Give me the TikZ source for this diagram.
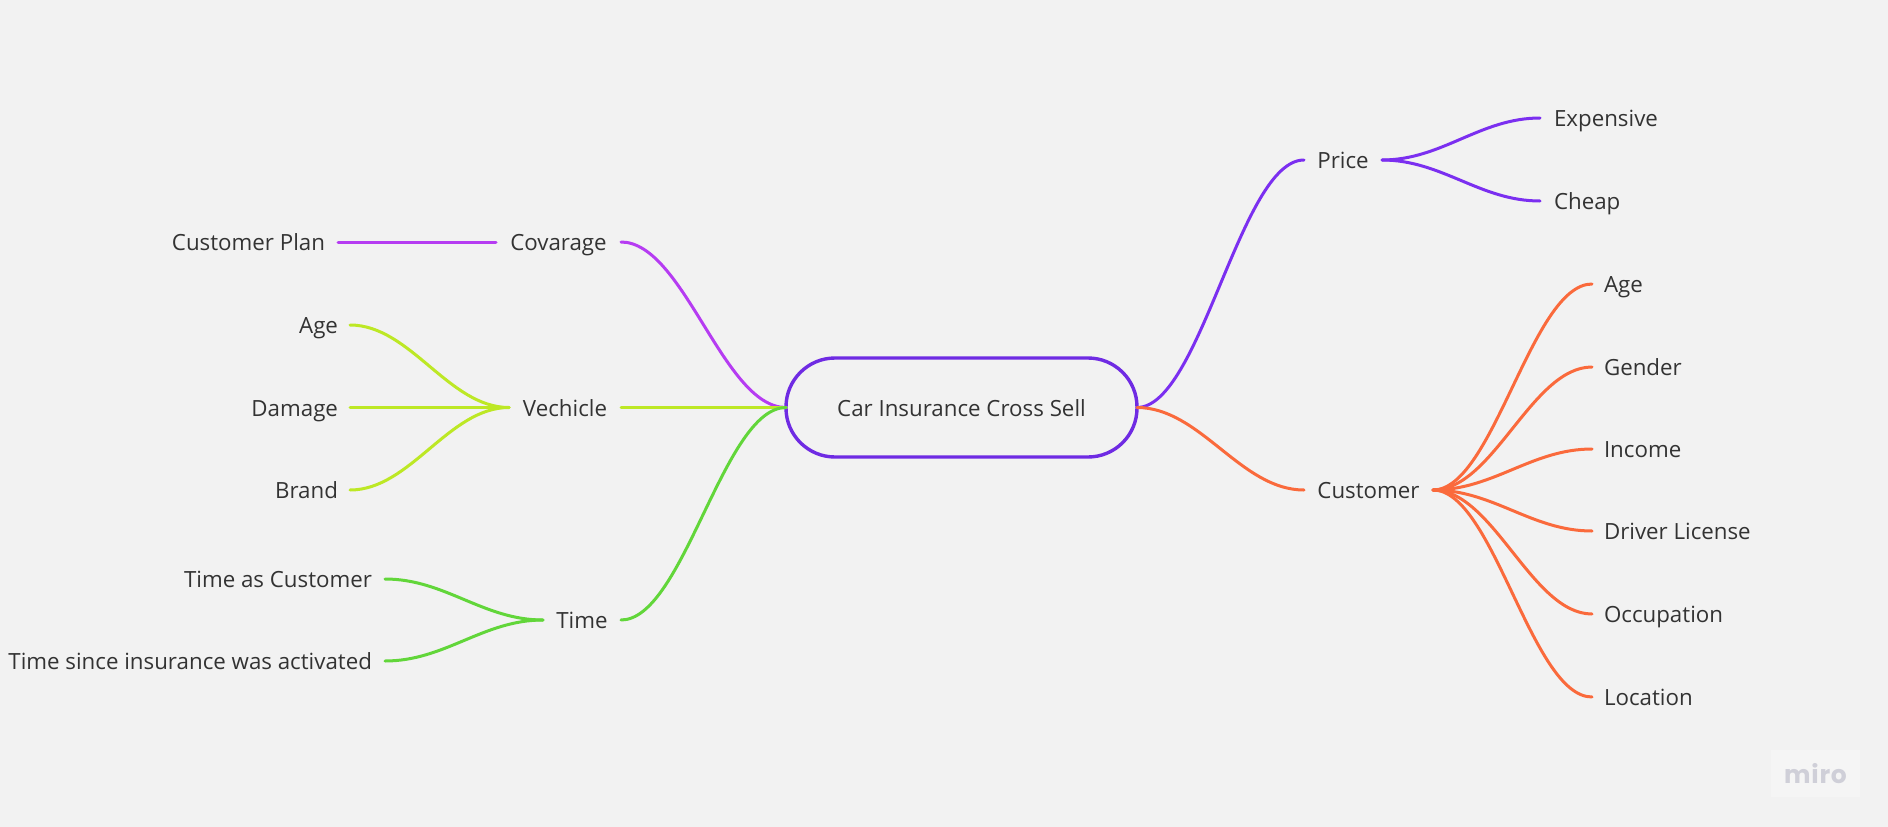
\documentclass[tikz,border=0pt]{standalone}
\usepackage{fontspec}
\usetikzlibrary{calc}
\setmainfont{Open Sans}
\newfontfamily\mirofont[LetterSpace=3]{Poppins}
\definecolor{bgcol}{HTML}{F2F2F2}
\definecolor{txtcol}{HTML}{333333}
\definecolor{rootcol}{HTML}{6F2BE3}
\definecolor{pricecol}{HTML}{7B2FF0}
\definecolor{custcol}{HTML}{FA6A3C}
\definecolor{covercol}{HTML}{B63CF2}
\definecolor{vehcol}{HTML}{BDE825}
\definecolor{timecol}{HTML}{62D63A}
\definecolor{mirocol}{HTML}{CFCFD8}
\tikzset{
  lab/.style={text=txtcol,inner sep=0pt,outer sep=0pt,text height=20pt,text depth=3pt,font=\fontsize{22.3}{26}\selectfont},
  rootbox/.style={lab,draw=rootcol,line width=3.4pt,rounded corners=49pt,minimum width=351pt,minimum height=99pt},
  branch/.style={line width=3pt,line cap=round,to path={let \p1=(\tikztostart),\p2=(\tikztotarget),\n1={.38*(\x2-\x1)} in .. controls ({\x1+\n1},\y1) and ({\x2-\n1},\y2) .. (\tikztotarget)}}
}
\begin{document}
\begin{tikzpicture}[x=1pt,y=-1pt]
\useasboundingbox[fill=bgcol] (0,0) rectangle (1888,827);

\node[rootbox] (root) at (961.5,407.5) {Car Insurance Cross Sell};

\node[lab,minimum width=78pt] (price) at (1343,160) {Price};
\node[lab,minimum width=129pt] (customer) at (1368.5,490) {Customer};
\node[lab,minimum width=125pt] (covarage) at (558.5,242) {Covarage};
\node[lab,minimum width=112pt] (vechicle) at (565,407.5) {Vechicle};
\node[lab,minimum width=78pt] (time) at (582,620) {Time};

\draw[branch,pricecol] (root.east) to (price.west);
\draw[branch,custcol] (root.east) to (customer.west);
\draw[branch,covercol] (root.west) to (covarage.east);
\draw[branch,vehcol] (root.west) to (vechicle.east);
\draw[branch,timecol] (root.west) to (time.east);

\foreach \nm/\yy/\lbl in {expensive/118/Expensive,cheap/201/Cheap}
{
\node[lab,anchor=west,inner xsep=14pt] (\nm) at (1540,\yy) {\lbl};
\draw[branch,pricecol] (price.east) to (\nm.west);
}

\foreach \nm/\yy/\lbl in {cage/284/Age,gender/367/Gender,income/449/Income,license/531/Driver License,occupation/614/Occupation,location/697/Location}
{
\node[lab,anchor=west,inner xsep=12pt] (\nm) at (1592,\yy) {\lbl};
\draw[branch,custcol] (customer.east) to (\nm.west);
}

\node[lab,anchor=east,inner xsep=13pt] (plan) at (338,242) {Customer Plan};
\draw[branch,covercol] (covarage.west) to (plan.east);

\foreach \nm/\yy/\lbl in {vage/325/Age,damage/407.5/Damage,brand/490/Brand}
{
\node[lab,anchor=east,inner xsep=12pt] (\nm) at (350,\yy) {\lbl};
\draw[branch,vehcol] (vechicle.west) to (\nm.east);
}

\foreach \nm/\yy/\lbl in {astime/579/Time as Customer,sincetime/661/Time since insurance was activated}
{
\node[lab,anchor=east,inner xsep=13pt] (\nm) at (385,\yy) {\lbl};
\draw[branch,timecol] (time.west) to (\nm.east);
}

\node[fill=white,fill opacity=.25,text opacity=1,text=mirocol,minimum width=89pt,minimum height=47pt,inner sep=0pt,font=\mirofont\bfseries\fontsize{25}{30}\selectfont] (miro) at (1815.5,773.5) {miro};
\end{tikzpicture}
\end{document}
